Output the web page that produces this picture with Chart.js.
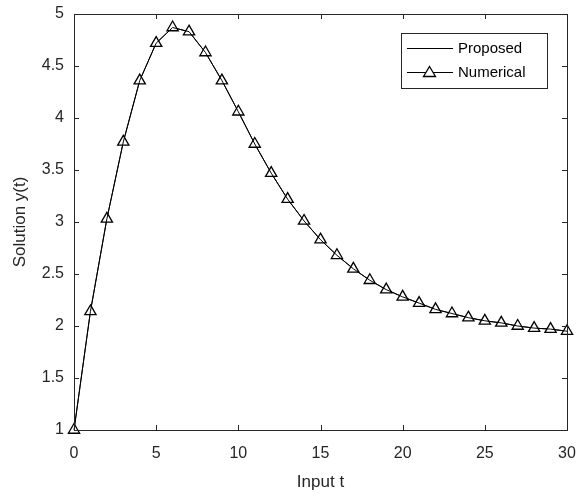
<!DOCTYPE html>
<html>
<head>
<meta charset="utf-8">
<script src="https://cdn.jsdelivr.net/npm/chart.js@4"></script>
<style>
  html, body { margin: 0; padding: 0; background: #fff; }
  #wrap { width: 583px; height: 497px; }
</style>
</head>
<body>
<div id="wrap"><canvas id="chart" width="583" height="497"></canvas></div>
<script>
const tValues = [0,1,2,3,4,5,6,7,8,9,10,11,12,13,14,15,16,17,18,19,20,21,22,23,24,25,26,27,28,29,30];
const proposed = [1.00,2.14,3.03,3.77,4.36,4.72,4.87,4.83,4.63,4.36,4.06,3.75,3.47,3.22,3.01,2.83,2.68,2.55,2.44,2.35,2.28,2.22,2.16,2.12,2.08,2.05,2.03,2.00,1.98,1.97,1.95];
const numerical = [1.00,2.14,3.03,3.77,4.36,4.72,4.87,4.83,4.63,4.36,4.06,3.75,3.47,3.22,3.01,2.83,2.68,2.55,2.44,2.35,2.28,2.22,2.16,2.12,2.08,2.05,2.03,2.00,1.98,1.97,1.95];
const seriesNames = ["Proposed", "Numerical"];
const xTicks = [0, 5, 10, 15, 20, 25, 30];
const yTicks = [1, 1.5, 2, 2.5, 3, 3.5, 4, 4.5, 5];

const FONT = "'Liberation Sans', Arial, sans-serif";
const axisColor = "#262626";

// box around the axes, ticks pointing inward, legend in the top right
const matlabAxes = {
  id: "matlabAxes",
  afterDraw(chart) {
    const { ctx, chartArea: a, scales: { x, y } } = chart;
    ctx.save();
    ctx.strokeStyle = axisColor;
    ctx.lineWidth = 1;
    ctx.strokeRect(a.left + 0.5, a.top + 0.5, a.right - a.left, a.bottom - a.top);
    ctx.beginPath();
    xTicks.forEach(v => {
      const px = Math.round(x.getPixelForValue(v)) + 0.5;
      ctx.moveTo(px, a.bottom); ctx.lineTo(px, a.bottom - 5);
      ctx.moveTo(px, a.top); ctx.lineTo(px, a.top + 5);
    });
    yTicks.forEach(v => {
      const py = Math.round(y.getPixelForValue(v)) + 0.5;
      ctx.moveTo(a.left, py); ctx.lineTo(a.left + 5, py);
      ctx.moveTo(a.right, py); ctx.lineTo(a.right - 5, py);
    });
    ctx.stroke();

    // legend
    const lx = 401, ly = 33, lw = 146, lh = 55;
    ctx.fillStyle = "#fff";
    ctx.fillRect(lx, ly, lw, lh);
    ctx.strokeRect(lx + 0.5, ly + 0.5, lw, lh);
    ctx.font = "15px " + FONT;
    ctx.textBaseline = "middle";
    const rows = [ly + 15, ly + 39];
    rows.forEach((ry, i) => {
      ctx.beginPath();
      ctx.strokeStyle = "#000";
      ctx.moveTo(lx + 6, ry + 0.5); ctx.lineTo(lx + 52, ry + 0.5);
      ctx.stroke();
      if (i === 1) {
        ctx.beginPath();
        ctx.moveTo(lx + 28.5, ry - 5.5);
        ctx.lineTo(lx + 34.5, ry + 4.5);
        ctx.lineTo(lx + 22.5, ry + 4.5);
        ctx.closePath();
        ctx.fillStyle = "#fff";
        ctx.fill();
        ctx.lineWidth = 1.3;
        ctx.stroke();
        ctx.lineWidth = 1;
      }
      ctx.fillStyle = "#000";
      ctx.fillText(seriesNames[i], lx + 57, ry + 1);
    });
    ctx.restore();
  }
};

new Chart(document.getElementById("chart"), {
  type: "line",
  data: {
    datasets: [
      {
        label: seriesNames[0],
        data: tValues.map((t, i) => ({ x: t, y: proposed[i] })),
        borderColor: "#000",
        borderWidth: 1,
        pointRadius: 0,
        tension: 0,
        clip: false,
      },
      {
        label: seriesNames[1],
        data: tValues.map((t, i) => ({ x: t, y: numerical[i] })),
        borderColor: "#000",
        borderWidth: 1,
        pointStyle: "triangle",
        pointRadius: 6.5,
        pointBorderWidth: 1.3,
        pointBackgroundColor: "#fff",
        pointBorderColor: "#000",
        tension: 0,
        clip: false,
      },
    ],
  },
  options: {
    responsive: false,
    animation: false,
    layout: { padding: { left: 0, right: 16, top: 14, bottom: 0 } },
    plugins: { legend: { display: false }, tooltip: { enabled: false } },
    scales: {
      x: {
        type: "linear",
        min: 0,
        max: 30,
        afterBuildTicks: s => { s.ticks = xTicks.map(v => ({ value: v })); },
        afterFit: s => { s.height = 67; s.paddingLeft = 0; s.paddingRight = 0; },
        grid: { display: false, drawTicks: false },
        border: { display: false },
        ticks: { color: axisColor, font: { family: FONT, size: 16 }, padding: 14, maxRotation: 0, callback: v => String(v) },
        title: { display: true, text: "Input t", color: axisColor, font: { family: FONT, size: 17 }, padding: { top: 0, bottom: 4 } },
      },
      y: {
        type: "linear",
        min: 1,
        max: 5,
        afterBuildTicks: s => { s.ticks = yTicks.map(v => ({ value: v })); },
        afterFit: s => { s.width = 74; s.paddingTop = 0; s.paddingBottom = 0; },
        grid: { display: false, drawTicks: false },
        border: { display: false },
        ticks: { color: axisColor, font: { family: FONT, size: 16 }, padding: 10, callback: v => String(v) },
        title: { display: true, text: "Solution y(t)", color: axisColor, font: { family: FONT, size: 17 }, padding: { top: 10, bottom: 0 } },
      },
    },
  },
  plugins: [matlabAxes],
});
</script>
</body>
</html>
